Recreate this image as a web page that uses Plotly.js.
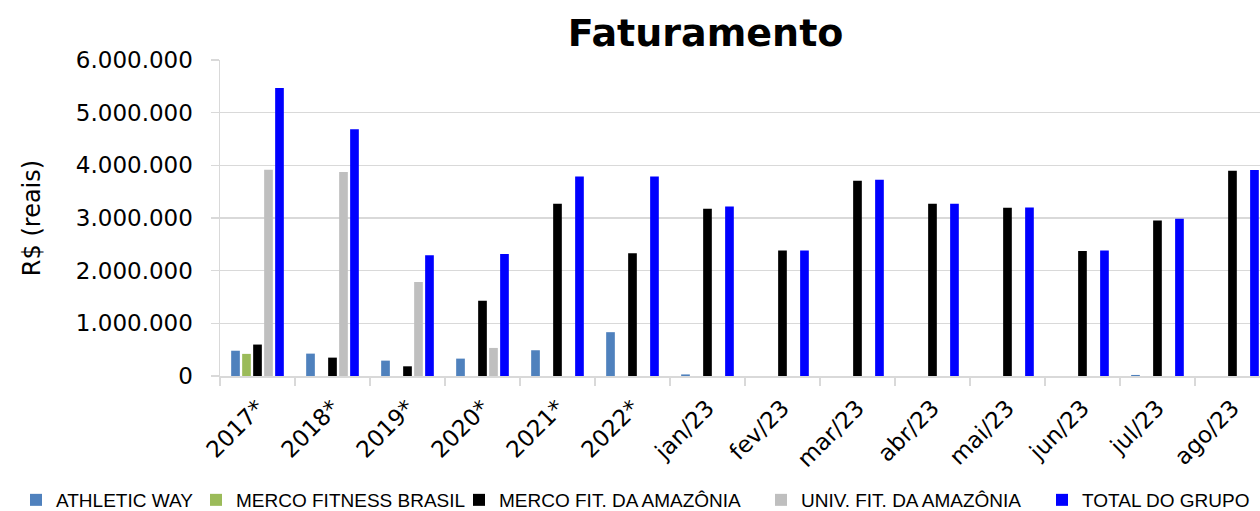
<!DOCTYPE html>
<html>
<head>
<meta charset="utf-8">
<script src="https://cdn.plot.ly/plotly-3.0.1.min.js"></script>
<style>html,body{margin:0;padding:0;background:#fff;}#chart{width:1260px;height:511px;}</style>
</head>
<body>
<div id="chart"></div>
<script>
const categories = ["2017*", "2018*", "2019*", "2020*", "2021*", "2022*", "jan/23", "fev/23", "mar/23", "abr/23", "mai/23", "jun/23", "jul/23", "ago/23"];
const athleticWay = [480000, 425000, 292000, 330000, 489000, 832000, 30000, null, null, null, null, null, 20000, null];
const mercoFitnessBrasil = [420000, null, null, null, null, null, null, null, null, null, null, null, null, null];
const mercoFitAmazonia = [597000, 349000, 184000, 1429000, 3270000, 2330000, 3175000, 2381000, 3708000, 3270000, 3194000, 2375000, 2952000, 3898000];
const univFitAmazonia = [3918000, 3873000, 1784000, 533000, null, null, null, null, null, null, null, null, null, null];
const totalGrupo = [5467000, 4686000, 2292000, 2318000, 3790000, 3790000, 3219000, 2381000, 3727000, 3270000, 3200000, 2381000, 2984000, 3911000];
const seriesNames = ["ATHLETIC WAY", "MERCO FITNESS BRASIL", "MERCO FIT. DA AMAZÔNIA", "UNIV. FIT. DA AMAZÔNIA", "TOTAL DO GRUPO"];
const seriesColors = ["#4F81BD", "#9BBB59", "#000000", "#BFBFBF", "#0000FF"];
const yTickVals = [0, 1000000, 2000000, 3000000, 4000000, 5000000, 6000000];

// left edges (px) of each legend entry, one legend per series
const legendLeft = [16, 196, 459, 761, 1042];

const values = [athleticWay, mercoFitnessBrasil, mercoFitAmazonia, univFitAmazonia, totalGrupo];
const legendIds = ['legend', 'legend2', 'legend3', 'legend4', 'legend5'];
const traces = values.map((v, i) => ({
  type: 'bar',
  x: categories,
  y: v,
  name: seriesNames[i],
  legend: legendIds[i],
  marker: {color: seriesColors[i], line: {width: 0}},
  hoverinfo: 'x+y+name'
}));

const font = "DejaVu Sans, sans-serif";
const legendFont = "Liberation Sans, Arial, sans-serif";
const layout = {
  width: 1260,
  height: 511,
  margin: {l: 220, r: 0, t: 60, b: 135},
  paper_bgcolor: '#ffffff',
  plot_bgcolor: '#ffffff',
  separators: ',.',
  barmode: 'group',
  bargap: 0.267,
  bargroupgap: 0.21,
  font: {family: font, color: '#000000'},
  title: {
    text: '<b>Faturamento</b>',
    font: {family: font, size: 38, color: '#000000'},
    xref: 'container', x: 0.56, xanchor: 'center',
    yref: 'container', y: 1 - 33/511, yanchor: 'middle'
  },
  xaxis: {
    type: 'category',
    range: [-0.5, 13.367],
    tickangle: -45,
    tickfont: {family: font, size: 23, color: '#000000'},
    ticks: 'outside',
    tickson: 'boundaries',
    ticklen: 8,
    tickcolor: '#D9D9D9',
    tickwidth: 1.5,
    ticklabelstandoff: 8,
    showline: true,
    linecolor: '#D9D9D9',
    linewidth: 1.5,
    showgrid: false,
    automargin: false,
    fixedrange: true
  },
  yaxis: {
    range: [0, 6000000],
    tickvals: yTickVals,
    tickformat: ',d',
    tickfont: {family: font, size: 23, color: '#000000'},
    ticks: 'outside',
    ticklen: 8,
    tickcolor: '#D9D9D9',
    tickwidth: 1.5,
    ticklabelstandoff: 13,
    showline: true,
    linecolor: '#D9D9D9',
    linewidth: 1.5,
    showgrid: true,
    gridcolor: '#D9D9D9',
    gridwidth: 1.5,
    zeroline: false,
    automargin: false,
    fixedrange: true,
    title: {text: 'R$ (reais)', font: {family: font, size: 24, color: '#000000'}, standoff: 28}
  },
  showlegend: true
};

legendIds.forEach((id, i) => {
  layout[id] = {
    orientation: 'h',
    xref: 'container', x: legendLeft[i] / 1260, xanchor: 'left',
    yref: 'container', y: 11/511, yanchor: 'middle',
    font: {family: legendFont, size: 19, color: '#000000'},
    itemwidth: 30,
    bgcolor: 'rgba(0,0,0,0)',
    borderwidth: 0
  };
});

Plotly.newPlot('chart', traces, layout, {displayModeBar: false, staticPlot: true});
</script>
</body>
</html>
